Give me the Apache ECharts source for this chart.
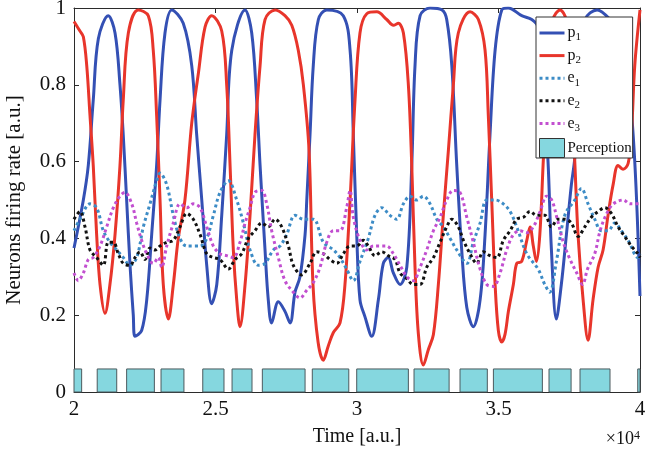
<!DOCTYPE html>
<html>
<head>
<meta charset="utf-8">
<script src="https://cdn.jsdelivr.net/npm/echarts@6/dist/echarts.min.js"></script>
<style>html,body{margin:0;padding:0;background:#fff}#c{width:646px;height:455px}</style>
</head>
<body>
<div id="c"></div>
<script>
// ---- data (time in a.u., value in a.u.) ----
const xTicks = ['2', '2.5', '3', '3.5', '4'];
const yTicks = ['0', '0.2', '0.4', '0.6', '0.8', '1'];

const p1 = [[20000,0.375],[20330,0.50],[20505,0.59],[20680,0.76],[20860,0.92],[21210,0.98],[21450,0.935],[21625,0.80],[21740,0.67],[21860,0.50],[21980,0.33],[22095,0.20],[22155,0.145],[22390,0.16],[22570,0.24],[22745,0.41],[22920,0.59],[23040,0.76],[23215,0.935],[23455,0.995],[23860,0.96],[24160,0.85],[24335,0.67],[24515,0.50],[24690,0.33],[24865,0.23],[25045,0.28],[25220,0.46],[25395,0.67],[25575,0.89],[26045,0.995],[26280,0.935],[26455,0.76],[26575,0.59],[26750,0.37],[26865,0.24],[26985,0.18],[27220,0.235],[27455,0.21],[27635,0.18],[27810,0.26],[27985,0.30],[28165,0.41],[28225,0.50],[28340,0.67],[28455,0.85],[28635,0.97],[28930,0.995],[29515,0.98],[29755,0.89],[29870,0.67],[29990,0.41],[30105,0.24],[30285,0.195],[30520,0.145],[30755,0.24],[30930,0.335],[31105,0.35],[31285,0.31],[31520,0.28],[31760,0.325],[31935,0.59],[32050,0.85],[32230,0.98],[32580,1.0],[33005,0.995],[33170,0.97],[33350,0.85],[33525,0.59],[33700,0.37],[33880,0.22],[34110,0.17],[34350,0.24],[34525,0.41],[34700,0.67],[34880,0.89],[35115,0.995],[35340,1.0],[35820,0.98],[36175,0.97],[36400,0.95],[36575,0.82],[36750,0.60],[36870,0.37],[37045,0.19],[37220,0.28],[37400,0.41],[37575,0.54],[37695,0.61],[37880,0.85],[38060,0.97],[38485,0.995],[38940,0.97],[39295,0.93],[39580,0.82],[39815,0.60],[40000,0.25]];

const p2 = [[20000,0.965],[20210,0.94],[20330,0.925],[20450,0.85],[20565,0.72],[20680,0.59],[20800,0.41],[20920,0.28],[21095,0.205],[21270,0.28],[21450,0.41],[21625,0.59],[21740,0.76],[21920,0.935],[22270,0.995],[22625,0.98],[22800,0.89],[22920,0.72],[23040,0.50],[23155,0.28],[23335,0.19],[23510,0.28],[23685,0.40],[23920,0.50],[24160,0.70],[24395,0.83],[24630,0.95],[24865,0.98],[25220,0.94],[25395,0.80],[25515,0.59],[25630,0.37],[25750,0.24],[25865,0.17],[26045,0.28],[26220,0.46],[26395,0.67],[26575,0.85],[26750,0.97],[27105,0.995],[27455,0.98],[27695,0.955],[27925,0.89],[28105,0.80],[28305,0.63],[28445,0.28],[28625,0.13],[28810,0.083],[28985,0.12],[29165,0.155],[29400,0.18],[29575,0.28],[29755,0.50],[29930,0.76],[30105,0.935],[30345,0.985],[30700,0.99],[31050,0.97],[31285,0.955],[31460,0.96],[31640,0.935],[31815,0.80],[31935,0.59],[32050,0.325],[32170,0.15],[32345,0.07],[32520,0.11],[32700,0.15],[32875,0.28],[33050,0.46],[33230,0.63],[33405,0.80],[33580,0.935],[33995,0.99],[34290,0.97],[34525,0.89],[34640,0.72],[34760,0.50],[34880,0.28],[34995,0.16],[35115,0.13],[35230,0.15],[35350,0.21],[35525,0.28],[35645,0.335],[35820,0.34],[36000,0.395],[36115,0.43],[36230,0.38],[36340,0.34],[36460,0.41],[36575,0.59],[36715,0.80],[36930,0.97],[37175,0.995],[37385,0.97],[37565,0.80],[37695,0.60],[37810,0.41],[37990,0.24],[38165,0.135],[38340,0.24],[38520,0.325],[38695,0.37],[38870,0.46],[39050,0.54],[39225,0.59],[39400,0.58],[39580,0.595],[39695,0.67],[39815,0.85],[40000,0.995]];

const e1 = [[20000,0.42],[20210,0.45],[20565,0.49],[20800,0.48],[21035,0.42],[21270,0.39],[21510,0.37],[21740,0.35],[21980,0.33],[22215,0.35],[22450,0.43],[22685,0.49],[22920,0.55],[23040,0.57],[23275,0.54],[23510,0.46],[23745,0.40],[23985,0.38],[24215,0.38],[24455,0.38],[24690,0.40],[24925,0.46],[25160,0.52],[25455,0.55],[25750,0.50],[25985,0.44],[26220,0.37],[26515,0.33],[26750,0.335],[27045,0.37],[27280,0.38],[27515,0.41],[27810,0.46],[28105,0.45],[28455,0.45],[28810,0.39],[29165,0.37],[29400,0.35],[29635,0.32],[29870,0.29],[30105,0.34],[30400,0.40],[30635,0.46],[30875,0.48],[31165,0.46],[31405,0.45],[31640,0.49],[31875,0.51],[32110,0.50],[32345,0.51],[32580,0.49],[32820,0.45],[33050,0.43],[33290,0.40],[33525,0.37],[33880,0.335],[34110,0.39],[34350,0.44],[34585,0.50],[34880,0.50],[35170,0.49],[35410,0.47],[35645,0.43],[36000,0.36],[36400,0.32],[36635,0.28],[36810,0.26],[37045,0.34],[37340,0.46],[37695,0.50],[37930,0.53],[38165,0.49],[38400,0.45],[38635,0.42],[38870,0.42],[39110,0.44],[39340,0.42],[39580,0.395],[39930,0.35],[40000,0.36]];

const e2 = [[20000,0.45],[20210,0.47],[20390,0.43],[20565,0.37],[20800,0.35],[21035,0.33],[21210,0.39],[21390,0.39],[21565,0.36],[21740,0.335],[21980,0.33],[22155,0.35],[22330,0.365],[22510,0.345],[22685,0.375],[22865,0.37],[23040,0.38],[23275,0.39],[23510,0.395],[23745,0.43],[23985,0.465],[24215,0.45],[24455,0.41],[24690,0.36],[24925,0.35],[25160,0.345],[25455,0.32],[25690,0.345],[25925,0.36],[26160,0.40],[26395,0.42],[26635,0.44],[26865,0.43],[27105,0.45],[27340,0.43],[27575,0.38],[27750,0.33],[28045,0.305],[28340,0.335],[28575,0.365],[28810,0.36],[29045,0.345],[29285,0.335],[29515,0.36],[29755,0.38],[29990,0.38],[30225,0.395],[30400,0.38],[30635,0.355],[30875,0.365],[31105,0.355],[31345,0.345],[31520,0.31],[31760,0.295],[31990,0.28],[32230,0.28],[32465,0.325],[32700,0.35],[32935,0.39],[33170,0.43],[33350,0.45],[33580,0.43],[33760,0.395],[33995,0.36],[34230,0.335],[34465,0.365],[34700,0.355],[34940,0.35],[35170,0.395],[35410,0.42],[35645,0.45],[35880,0.455],[36115,0.47],[36350,0.46],[36635,0.46],[36870,0.43],[37105,0.45],[37340,0.45],[37575,0.44],[37810,0.405],[38050,0.43],[38280,0.455],[38520,0.47],[38755,0.48],[38990,0.465],[39225,0.43],[39460,0.405],[39695,0.38],[39930,0.36],[40000,0.35]];

const e3 = [[20000,0.31],[20150,0.29],[20330,0.31],[20505,0.345],[20680,0.35],[20920,0.38],[21155,0.43],[21390,0.48],[21625,0.51],[21800,0.52],[22040,0.49],[22215,0.44],[22390,0.395],[22570,0.36],[22800,0.335],[22980,0.35],[23100,0.325],[23275,0.38],[23510,0.44],[23745,0.49],[23985,0.48],[24215,0.49],[24455,0.48],[24690,0.43],[24925,0.38],[25160,0.36],[25395,0.355],[25630,0.35],[25865,0.39],[26045,0.44],[26220,0.48],[26395,0.52],[26635,0.525],[26810,0.49],[26985,0.42],[27220,0.35],[27455,0.29],[27750,0.26],[27985,0.245],[28225,0.265],[28455,0.285],[28695,0.325],[28930,0.39],[29165,0.42],[29400,0.42],[29635,0.48],[29755,0.525],[29870,0.455],[30105,0.395],[30345,0.37],[30575,0.38],[30815,0.38],[31050,0.38],[31285,0.36],[31520,0.33],[31760,0.30],[31990,0.29],[32230,0.325],[32465,0.37],[32700,0.42],[32935,0.455],[33170,0.50],[33405,0.525],[33640,0.52],[33880,0.455],[34110,0.39],[34350,0.32],[34585,0.28],[34820,0.275],[35055,0.31],[35290,0.37],[35525,0.41],[35760,0.42],[36000,0.415],[36230,0.43],[36470,0.47],[36705,0.51],[36880,0.50],[37060,0.455],[37290,0.39],[37530,0.345],[37765,0.31],[37970,0.28],[38145,0.32],[38400,0.36],[38590,0.42],[38825,0.465],[39060,0.49],[39410,0.50],[39650,0.49],[40000,0.49]];

// perception on-intervals [start, end] and bar height
const percStart = [20000, 20820, 21860, 23075, 24550, 25585, 26655, 28420, 29990, 32015, 33640, 34820, 36785, 37880, 39920];
const percEnd   = [20270, 21510, 22840, 23885, 25300, 26290, 28165, 29710, 31815, 33255, 34605, 36550, 37565, 38940, 40000];
const percHeight = 0.06;

const names = ['p1', 'p2', 'e1', 'e2', 'e3', 'Perception'];
// ---------------------------------------------

const serif = '"Liberation Serif", "DejaVu Serif", serif';
const axisColor = '#2b2b2b';
const perc = percStart.map((s, i) => [s, percEnd[i], percHeight]);
const colors = {p1: '#3450b4', p2: '#e8352b', e1: '#3d8cc6', e2: '#111111', e3: '#c24fd0'};

const chart = echarts.init(document.getElementById('c'), null, {renderer: 'canvas'});

function lineSeries(name, data, dotted) {
  return {
    name: name, type: 'line', data: data, symbol: 'none', smooth: 0.35,
    xAxisIndex: 0, yAxisIndex: 0,
    lineStyle: {color: colors[name], width: 3, type: dotted ? [3, 3] : 'solid', cap: 'butt'},
    itemStyle: {color: colors[name]},
    z: 3
  };
}

const legendLineItems = names.slice(0, 5).map((n, i) => ({
  name: n, itemStyle: {opacity: 0},
  lineStyle: {color: colors[n], width: 3, type: i < 2 ? 'solid' : [3, 3], opacity: 1}
}));

const option = {
  animation: false,
  backgroundColor: '#fff',
  grid: {left: 74, right: 6, top: 8, bottom: 63, containLabel: false, outerBoundsMode: 'none'},
  xAxis: [{
    type: 'value', min: 20000, max: 40000, interval: 5000, position: 'bottom',
    axisLine: {show: true, onZero: false, lineStyle: {color: axisColor, width: 1}},
    axisTick: {show: true, inside: true, length: 5, lineStyle: {color: axisColor}},
    axisLabel: {color: '#111', fontFamily: serif, fontSize: 21, margin: 7,
      formatter: (v) => xTicks[Math.round((v - 20000) / 5000)]},
    splitLine: {show: false},
    name: 'Time [a.u.]', nameLocation: 'middle', nameGap: 35,
    nameTextStyle: {color: '#111', fontFamily: serif, fontSize: 20}
  }, {
    type: 'value', min: 20000, max: 40000, interval: 5000, position: 'top',
    axisLine: {show: true, onZero: false, lineStyle: {color: axisColor, width: 1}},
    axisTick: {show: true, inside: true, length: 5, lineStyle: {color: axisColor}},
    axisLabel: {show: false}, splitLine: {show: false}
  }],
  yAxis: [{
    type: 'value', min: 0, max: 1, interval: 0.2, position: 'left',
    axisLine: {show: true, onZero: false, lineStyle: {color: axisColor, width: 1}},
    axisTick: {show: true, inside: true, length: 5, lineStyle: {color: axisColor}},
    axisLabel: {color: '#111', fontFamily: serif, fontSize: 21, margin: 8,
      formatter: (v) => yTicks[Math.round(v / 0.2)]},
    splitLine: {show: false},
    name: 'Neurons firing rate [a.u.]', nameLocation: 'middle', nameGap: 49,
    nameTextStyle: {color: '#111', fontFamily: serif, fontSize: 21}
  }, {
    type: 'value', min: 0, max: 1, interval: 0.2, position: 'right',
    axisLine: {show: true, onZero: false, lineStyle: {color: axisColor, width: 1}},
    axisTick: {show: true, inside: true, length: 5, lineStyle: {color: axisColor}},
    axisLabel: {show: false}, splitLine: {show: false}
  }],
  legend: {
    orient: 'vertical', left: 536, top: 17, selectedMode: false,
    backgroundColor: '#fff', borderColor: '#333', borderWidth: 1,
    padding: [8, 1, 0, 2], itemWidth: 25, itemHeight: 19, itemGap: 4.6,
    textStyle: {
      fontFamily: serif, fontSize: 16, color: '#111', padding: [0, 0, 0, -2],
      rich: {
        m: {fontFamily: serif, fontSize: 16, lineHeight: 20, color: '#111'},
        q: {fontFamily: serif, fontSize: 15, lineHeight: 20, color: '#111'},
        s: {fontFamily: serif, fontSize: 11, lineHeight: 9, verticalAlign: 'bottom', color: '#111'}
      }
    },
    formatter: function (n) {
      if (n === 'Perception') return '{q|Perception}';
      return '{m|' + n.charAt(0) + '}{s|' + n.slice(1) + '}';
    },
    data: legendLineItems.concat([{name: 'Perception', icon: 'rect',
      itemStyle: {color: '#85d7df', borderColor: '#333', borderWidth: 1, opacity: 1}}])
  },
  graphic: [{
    type: 'text', right: 6, top: 430,
    style: {
      text: '×10{sup|4}', fontFamily: serif, fontSize: 18, fill: '#111',
      rich: {sup: {fontFamily: serif, fontSize: 12, verticalAlign: 'top', lineHeight: 10, fill: '#111'}}
    }
  }],
  series: [
    lineSeries('p1', p1, false),
    lineSeries('p2', p2, false),
    lineSeries('e1', e1, true),
    lineSeries('e2', e2, true),
    lineSeries('e3', e3, true),
    {
      name: 'Perception', type: 'custom', data: perc, xAxisIndex: 0, yAxisIndex: 0,
      encode: {x: [0, 1], y: 2},
      itemStyle: {color: '#85d7df'},
      z: 4,
      renderItem: function (params, api) {
        const a = api.coord([api.value(0), 0]);
        const b = api.coord([api.value(1), api.value(2)]);
        return {
          type: 'rect',
          shape: {x: a[0], y: b[1], width: b[0] - a[0], height: a[1] - b[1]},
          style: {fill: '#85d7df', stroke: '#4c5a5e', lineWidth: 1}
        };
      }
    }
  ]
};
chart.setOption(option);
</script>
</body>
</html>
